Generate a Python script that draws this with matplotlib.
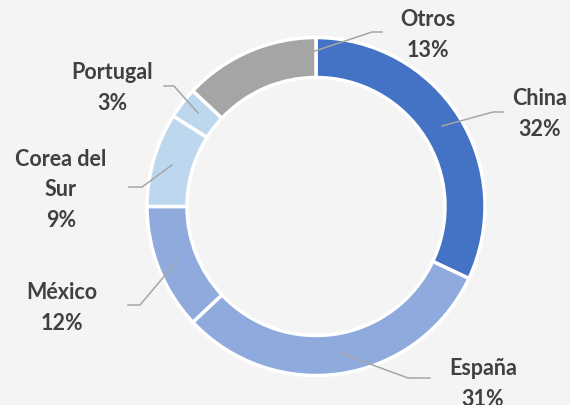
import matplotlib
matplotlib.use("Agg")
import matplotlib.pyplot as plt

paises = ["China", "España", "México", "Corea del\nSur", "Portugal", "Otros"]
porcentajes = [32, 31, 12, 9, 3, 13]
colores = ["#4472C4", "#8FAADC", "#8FAADC", "#BDD7EE", "#BDD7EE", "#A5A5A5"]

# label layout in pixels (x, y from top): text centre, leader line points
pos_texto = [(540, 114), (483, 384), (62, 308), (61, 190), (112, 88), (428, 35)]
lineas = [
    [(442, 127), (493, 113), (503, 113)],
    [(340, 354), (408, 379), (430, 379)],
    [(177, 262), (140, 306), (128, 306)],
    [(172, 166), (142, 188), (129, 188)],
    [(198, 114), (174, 87), (164, 87)],
    [(315, 52), (372, 33), (382, 33)],
]

W, H = 570, 406
fig = plt.figure(figsize=(W / 100, H / 100), dpi=100)
fig.patch.set_facecolor("#F4F4F4")
ax = fig.add_axes([0, 0, 1, 1])
ax.set_facecolor("#F4F4F4")

ax.pie(porcentajes, colors=colores, startangle=90, counterclock=False,
       center=(316, H - 207.5), radius=169,
       wedgeprops=dict(width=40, edgecolor="white", linewidth=2.5))

for nombre, p, (tx, ty), pts in zip(paises, porcentajes, pos_texto, lineas):
    xs = [x for x, y in pts]
    ys = [H - y for x, y in pts]
    ax.plot(xs, ys, color="#A6A6A6", lw=1.1)
    ax.text(tx, H - ty, f"{nombre}\n{p}%", ha="center", va="center",
            fontsize=15.5, fontweight="bold", color="#404040",
            family=["Lato", "DejaVu Sans"], linespacing=1.55)

ax.set_xlim(0, W)
ax.set_ylim(0, H)
ax.set_aspect("equal")
ax.axis("off")

fig.savefig("out.png", dpi=100, facecolor=fig.get_facecolor())
